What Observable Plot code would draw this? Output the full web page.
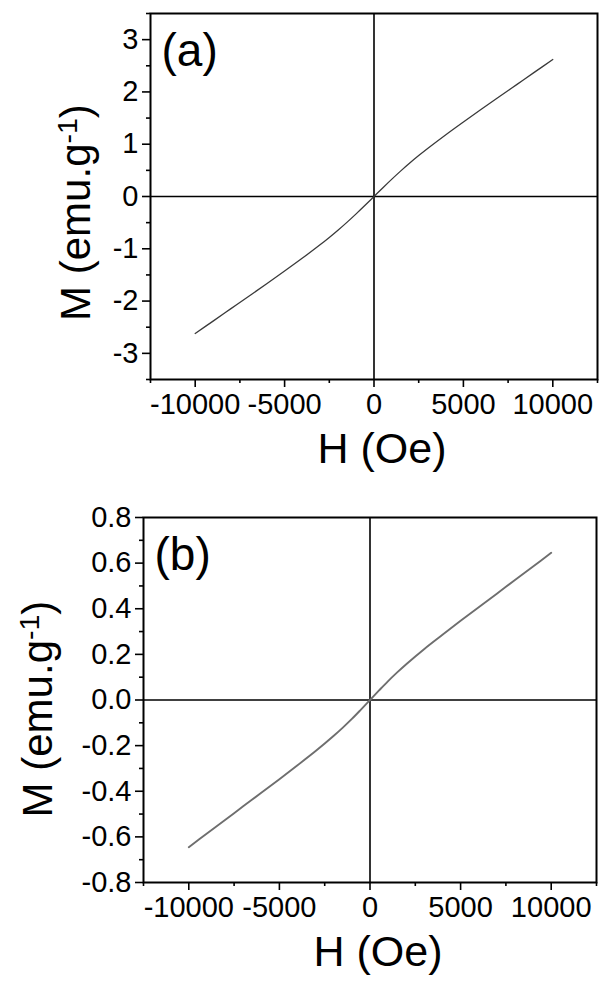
<!DOCTYPE html>
<html>
<head>
<meta charset="utf-8">
<script src="https://cdn.jsdelivr.net/npm/d3@7"></script>
<script src="https://cdn.jsdelivr.net/npm/@observablehq/plot@0.6"></script>
<style>
  html, body { margin: 0; padding: 0; background: #fff; }
  #chart { width: 606px; }
  #chart svg { display: block; }
</style>
</head>
<body>
<div id="chart"></div>
<script>
// ---- Panel (a) data: H (Oe) and M (emu/g)
const H_a = [-10000, -9000, -8000, -7000, -6000, -5000, -4000, -3000, -2500, -2000, -1500, -1000, -500, 0,
             500, 1000, 1500, 2000, 2500, 3000, 4000, 5000, 6000, 7000, 8000, 9000, 10000];
const M_a = [-2.62, -2.383, -2.145, -1.907, -1.668, -1.426, -1.178, -0.919, -0.783, -0.64, -0.49, -0.332, -0.168, 0,
             0.168, 0.332, 0.49, 0.64, 0.783, 0.919, 1.178, 1.426, 1.668, 1.907, 2.145, 2.383, 2.62];

// ---- Panel (b) data
const H_b = [-10000, -9000, -8000, -7000, -6000, -5000, -4000, -3000, -2000, -1500, -1000, -500, 0,
             500, 1000, 1500, 2000, 3000, 4000, 5000, 6000, 7000, 8000, 9000, 10000];
const M_b = [-0.645, -0.585, -0.526, -0.466, -0.407, -0.347, -0.286, -0.224, -0.157, -0.121, -0.083, -0.042, 0,
             0.042, 0.083, 0.121, 0.157, 0.224, 0.286, 0.347, 0.407, 0.466, 0.526, 0.585, 0.645];

// ---- Axis ticks and labels
const xMajor = [-10000, -5000, 0, 5000, 10000];
const xMinor = [-12500, -7500, -2500, 2500, 7500, 12500];
const yMajorA = [-3, -2, -1, 0, 1, 2, 3];
const yMinorA = [-3.5, -2.5, -1.5, -0.5, 0.5, 1.5, 2.5, 3.5];
const yMajorB = [-0.8, -0.6, -0.4, -0.2, 0, 0.2, 0.4, 0.6, 0.8];
const yMinorB = [-0.7, -0.5, -0.3, -0.1, 0.1, 0.3, 0.5, 0.7];
const xLabel = "H (Oe)";
const yLabel = "M (emu.g";
const yLabelSup = "-1";
const panelTags = ["(a)", "(b)"];

const font = "'Liberation Sans', Arial, Helvetica, sans-serif";

function panel(o) {
  const data = o.H.map((h, i) => ({H: h, M: o.M[i]}));
  const svg = Plot.plot({
    width: 606,
    height: o.height,
    marginLeft: o.ml,
    marginRight: o.mr,
    marginTop: o.mt,
    marginBottom: o.mb,
    x: {domain: [-12500, 12500]},
    y: {domain: o.yDomain},
    style: {fontFamily: font, color: "black", background: "white", overflow: "visible"},
    marks: [
      Plot.ruleX([0], {stroke: "black", strokeWidth: 1.6}),
      Plot.ruleY([0], {stroke: "black", strokeWidth: 1.6}),
      Plot.line(data, {x: "H", y: "M", stroke: o.stroke, strokeWidth: o.sw, curve: "catmull-rom"}),
      Plot.frame({stroke: "black", strokeWidth: 2}),
      Plot.axisX({ticks: xMajor, tickSize: 8, tickPadding: 6, fontSize: 29, strokeWidth: 1.6,
                  tickFormat: (d) => String(d), label: null}),
      Plot.axisX({ticks: xMinor, tickSize: 4, strokeWidth: 1.6, tickFormat: () => "", label: null}),
      Plot.axisY({ticks: o.yMajor, tickSize: 8, tickPadding: 4, fontSize: 29, strokeWidth: 1.6,
                  tickFormat: o.yFmt, label: null}),
      Plot.axisY({ticks: o.yMinor, tickSize: 4, strokeWidth: 1.6, tickFormat: () => "", label: null}),
      Plot.text([xLabel], {frameAnchor: "bottom", dy: o.xlabDy, dx: 8, fontSize: 43, textAnchor: "middle",
                           lineAnchor: "middle"}),
      Plot.text([yLabel], {frameAnchor: "left", dx: o.ylabDx, dy: o.ylabDy, rotate: -90, fontSize: 42,
                           textAnchor: "middle", lineAnchor: "middle", className: "ylab"}),
      Plot.text([o.tag], {frameAnchor: "top-left", dx: 11, dy: o.tagDy, fontSize: 46, textAnchor: "start",
                          lineAnchor: "top"})
    ]
  });
  // superscript in the y label
  d3.select(svg).selectAll("g.ylab text").each(function() {
    const t = d3.select(this);
    t.text(null);
    t.append("tspan").text(yLabel);
    t.append("tspan").attr("dy", "-0.45em").attr("font-size", "0.68em").text(yLabelSup);
    t.append("tspan").attr("dy", "0.3em").text(")");
  });
  return svg;
}

const chart = document.getElementById("chart");
chart.appendChild(panel({
  H: H_a, M: M_a, height: 490, ml: 150, mr: 9, mt: 13, mb: 111,
  yDomain: [-3.5, 3.5], yMajor: yMajorA, yMinor: yMinorA,
  yFmt: (d) => String(d),
  xlabDy: 70, ylabDx: -74, ylabDy: 16, tag: panelTags[0], tagDy: 20,
  stroke: "#3a3a3a", sw: 1.3
}));
chart.appendChild(panel({
  H: H_b, M: M_b, height: 497, ml: 143, mr: 10, mt: 27, mb: 105,
  yDomain: [-0.8, 0.8], yMajor: yMajorB, yMinor: yMinorB,
  yFmt: (d) => (d < 0 ? "-" : "") + Math.abs(d).toFixed(1),
  xlabDy: 70, ylabDx: -105, ylabDy: 9, tag: panelTags[1], tagDy: 20,
  stroke: "#6e6e6e", sw: 1.9
}));
</script>
</body>
</html>
